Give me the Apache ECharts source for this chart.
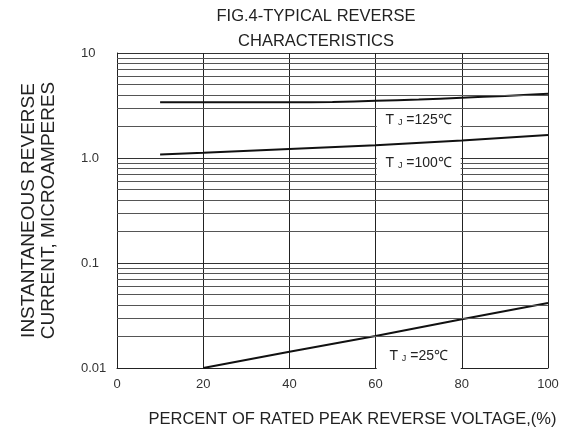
<!DOCTYPE html>
<html>
<head>
<meta charset="utf-8">
<script src="https://cdn.jsdelivr.net/npm/echarts@6/dist/echarts.min.js"></script>
<style>
  html, body { margin: 0; padding: 0; background: #fff; }
  #main { width: 567px; height: 433px; }
</style>
</head>
<body>
<div id="main"></div>
<script>
// percent of rated peak reverse voltage
var tj125X = [10, 20, 30, 40, 50, 60, 70, 80, 90, 100];
var tj125Y = [3.4, 3.4, 3.4, 3.4, 3.42, 3.5, 3.6, 3.75, 3.9, 4.1];
var tj100X = [10, 20, 40, 60, 80, 100];
var tj100Y = [1.08, 1.12, 1.22, 1.32, 1.47, 1.66];
var tj25X = [20, 40, 60, 80, 100];
var tj25Y = [0.01, 0.0143, 0.0202, 0.0291, 0.0416];
// minor horizontal grid of the log paper
var minorGrid = [9, 8, 7, 6, 5, 4, 3, 2,
	0.9, 0.8, 0.7, 0.6, 0.5, 0.4, 0.3, 0.2,
	0.09, 0.08, 0.07, 0.06, 0.05, 0.04, 0.03, 0.02];
var yTickText = { '10': '10', '1': '1.0', '0.1': '0.1', '0.01': '0.01' };

function pairs(xs, ys) {
	return xs.map(function(x, i) { return [x, ys[i]]; });
}

var font = '"Liberation Sans", Arial, sans-serif';

function tjLabel(temp) {
	return {
		show: true,
		formatter: '{a|T }{s|J}{a| =' + temp + '℃}',
		backgroundColor: '#fff',
		width: 84,
		height: 24,
		align: 'center',
		verticalAlign: 'middle',
		offset: [0, 5],
		rich: {
			a: { fontSize: 14, fontFamily: font, color: '#222' },
			s: { fontSize: 9, fontFamily: font, color: '#222', padding: [5, 0, 0, 0] }
		}
	};
}

var chart = echarts.init(document.getElementById('main'));
chart.setOption({
	backgroundColor: '#fff',
	animation: false,
	title: {
		text: 'FIG.4-TYPICAL REVERSE\nCHARACTERISTICS',
		left: 316,
		top: 4,
		padding: 0,
		textAlign: 'center',
		textStyle: { fontSize: 16.5, fontWeight: 'normal', fontFamily: font, color: '#222', lineHeight: 25 }
	},
	grid: { left: 117, right: 19, top: 53, bottom: 65 },
	xAxis: {
		type: 'value',
		min: 0,
		max: 100,
		interval: 20,
		name: 'PERCENT OF RATED PEAK REVERSE VOLTAGE,(%)',
		nameLocation: 'middle',
		nameGap: 43,
		nameTextStyle: { fontSize: 16.5, fontFamily: font, color: '#222', padding: [0, 0, 0, 40] },
		axisLine: { lineStyle: { color: '#222', width: 1 } },
		axisTick: { show: false },
		axisLabel: { fontSize: 13, fontFamily: font, color: '#333', margin: 10 },
		splitLine: { show: true, lineStyle: { color: '#222', width: 1 } }
	},
	yAxis: {
		type: 'log',
		logBase: 10,
		min: 0.01,
		max: 10,
		name: 'INSTANTANEOUS REVERSE\nCURRENT, MICROAMPERES',
		nameLocation: 'middle',
		nameGap: 58,
		nameTextStyle: { fontSize: 19, fontFamily: font, color: '#222', lineHeight: 20 },
		axisLine: { show: true, lineStyle: { color: '#222', width: 1 } },
		axisTick: { show: false },
		axisLabel: {
			fontSize: 13, fontFamily: font, color: '#333', margin: 36, align: 'left',
			formatter: function(v) {
				var k = String(+v.toPrecision(3));
				return yTickText[k] !== undefined ? yTickText[k] : '';
			}
		},
		splitLine: { show: true, lineStyle: { color: '#333', width: 1 } }
	},
	series: [{
		name: 'grid',
		type: 'line',
		data: [],
		silent: true,
		markLine: {
			silent: true,
			symbol: 'none',
			label: { show: false },
			lineStyle: { color: '#555', width: 1, type: 'solid' },
			data: minorGrid.map(function(v) { return { yAxis: v }; })
		}
	}, {
		name: 'TJ=125',
		type: 'line',
		showSymbol: false,
		smooth: 0.3,
		lineStyle: { color: '#111', width: 2 },
		data: pairs(tj125X, tj125Y),
		markPoint: {
			symbol: 'rect', symbolSize: 0,
			label: tjLabel(125),
			data: [{ coord: [70, 2.3] }]
		}
	}, {
		name: 'TJ=100',
		type: 'line',
		showSymbol: false,
		lineStyle: { color: '#111', width: 2 },
		data: pairs(tj100X, tj100Y),
		markPoint: {
			symbol: 'rect', symbolSize: 0,
			label: tjLabel(100),
			data: [{ coord: [70, 0.89] }]
		}
	}, {
		name: 'TJ=25',
		type: 'line',
		showSymbol: false,
		lineStyle: { color: '#111', width: 2 },
		data: pairs(tj25X, tj25Y),
		markPoint: {
			symbol: 'rect', symbolSize: 0,
			label: tjLabel(25),
			data: [{ coord: [70, 0.013] }]
		}
	}]
});
</script>
</body>
</html>
